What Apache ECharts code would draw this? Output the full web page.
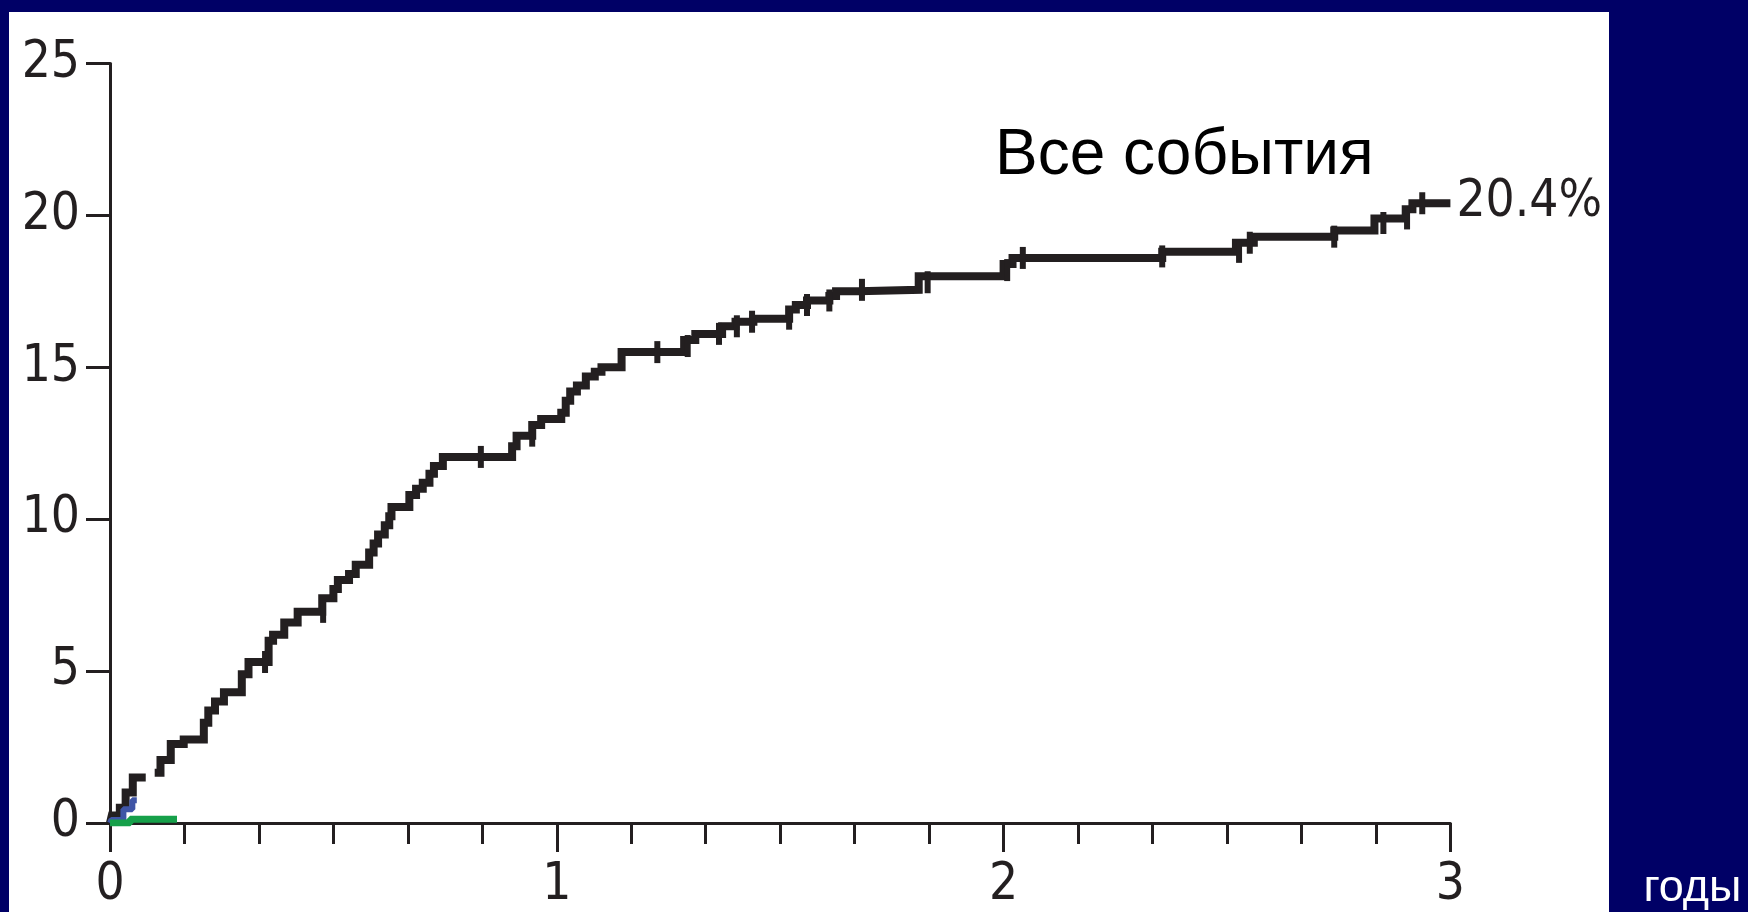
<!DOCTYPE html>
<html>
<head>
<meta charset="utf-8">
<script src="https://cdn.jsdelivr.net/npm/echarts@6/dist/echarts.min.js"></script>
<style>
  html, body { margin: 0; padding: 0; background: #000066; }
  #panel { position: absolute; left: 9px; top: 12px; width: 1600px; height: 900px; background: #ffffff; }
  #chart { position: absolute; left: 0; top: 0; width: 1748px; height: 912px; }
</style>
</head>
<body>
<div id="panel"></div>
<div id="chart"></div>
<script>
// ---- Data (years, cumulative % of events) ----
const allTime = [0, 0.004, 0.022, 0.035, 0.051, 0.068, 0.08, 0.10, 0.113, 0.136, 0.165, 0.21, 0.22, 0.235, 0.255, 0.295, 0.31, 0.355, 0.365, 0.39, 0.42, 0.475, 0.5, 0.51, 0.535, 0.55, 0.58, 0.59, 0.60, 0.615, 0.625, 0.63, 0.67, 0.685, 0.70, 0.715, 0.725, 0.745, 0.90, 0.91, 0.945, 0.965, 1.01, 1.02, 1.03, 1.045, 1.065, 1.085, 1.10, 1.145, 1.285, 1.31, 1.37, 1.40, 1.44, 1.52, 1.535, 1.56, 1.61, 1.625, 1.675, 1.81, 2.0, 2.02, 2.355, 2.52, 2.56, 2.74, 2.83, 2.90, 2.915, 3.0];
const allPct = [0, 0.25, 0.5, 1.0, 1.5, 1.5, null, 1.65, 2.07, 2.6, 2.75, 3.3, 3.7, 4.0, 4.3, 4.9, 5.3, 6.0, 6.2, 6.6, 6.95, 7.4, 7.7, 8.0, 8.2, 8.5, 8.9, 9.2, 9.5, 9.8, 10.1, 10.4, 10.8, 11.0, 11.2, 11.5, 11.75, 12.05, 12.4, 12.75, 13.1, 13.3, 13.5, 13.9, 14.2, 14.4, 14.7, 14.85, 15.0, 15.5, 15.9, 16.1, 16.35, 16.5, 16.6, 16.9, 17.05, 17.2, 17.35, 17.5, 17.55, 18.0, 18.4, 18.6, 18.8, 19.1, 19.3, 19.5, 19.9, 20.2, 20.4, 20.4];

const censorTime = [0.347, 0.477, 0.83, 0.945, 1.225, 1.293, 1.363, 1.403, 1.437, 1.52, 1.56, 1.61, 1.683, 1.83, 2.008, 2.043, 2.355, 2.527, 2.551, 2.74, 2.85, 2.903, 2.937];
const censorPct  = [5.3, 6.95, 12.05, 12.75, 15.5, 15.7, 16.1, 16.35, 16.5, 16.6, 17.05, 17.2, 17.55, 17.8, 18.2, 18.6, 18.65, 18.8, 19.1, 19.3, 19.75, 19.9, 20.4];

const blueTime = [0, 0.003, 0.03, 0.05, 0.06];
const bluePct  = [0, 0.1, 0.45, 0.75, 0.75];

const greenTime = [0, 0.045, 0.15];
const greenPct  = [0, 0.12, 0.12];

const xMin = 0, xMax = 3, xStep = 1, xMinorSplit = 6;
const yMin = 0, yMax = 25, yStep = 5;

const titleText = 'Все события';
const xAxisName = 'годы';

const zip = (a, b) => a.map((v, i) => [v, b[i]]);

const ink = '#231F20';
const numFont = '"Liberation Sans Narrow", "DejaVu Sans Condensed", sans-serif';
const textFont = '"Liberation Sans", Arial, sans-serif';

const chart = echarts.init(document.getElementById('chart'), null, { renderer: 'canvas' });
chart.setOption({
  backgroundColor: 'transparent',
  animation: false,
  title: {
    text: titleText,
    left: 990, top: 119,
    textStyle: { fontFamily: textFont, fontSize: 64, fontWeight: 'normal', color: '#000000' }
  },
  grid: { left: 110, top: 63.5, right: 297.6, bottom: 89, containLabel: false, outerBoundsMode: 'none' },
  xAxis: {
    type: 'value', min: xMin, max: xMax, interval: xStep,
    name: xAxisName, nameLocation: 'end', nameGap: 193,
    nameTextStyle: { color: '#ffffff', fontSize: 45, fontFamily: textFont, verticalAlign: 'top', align: 'left', padding: [43, 0, 0, 0] },
    axisLine: { show: true, onZero: false, lineStyle: { color: ink, width: 3 } },
    axisTick: { show: true, length: 29, lineStyle: { color: ink, width: 3 } },
    minorTick: { show: true, splitNumber: xMinorSplit, length: 21, lineStyle: { color: ink, width: 3 } },
    splitLine: { show: false },
    minorSplitLine: { show: false },
    axisLabel: { margin: 37, fontFamily: numFont, fontSize: 51, color: ink, showMinLabel: true, showMaxLabel: true }
  },
  yAxis: {
    type: 'value', min: yMin, max: yMax, interval: yStep,
    axisLine: { show: true, onZero: false, lineStyle: { color: ink, width: 3 } },
    axisTick: { show: true, length: 24, lineStyle: { color: ink, width: 3 } },
    splitLine: { show: false },
    axisLabel: { margin: 30, fontFamily: numFont, fontSize: 51, color: ink, showMinLabel: true, showMaxLabel: true }
  },
  series: [
    {
      name: 'all', type: 'line', step: 'end', z: 3,
      data: zip(allTime, allPct), showSymbol: false, connectNulls: false,
      lineStyle: { color: ink, width: 8, cap: 'butt', join: 'miter' },
      endLabel: {
        show: true, distance: 6,
        formatter: p => p.value[1].toFixed(1) + '%',
        fontFamily: numFont, fontSize: 51, color: ink
      }
    },
    {
      name: 'censor', type: 'scatter', z: 4,
      data: zip(censorTime, censorPct),
      symbol: 'rect', symbolSize: [6, 22],
      itemStyle: { color: ink, opacity: 1 }
    },
    {
      name: 'blue', type: 'line', step: 'end', z: 5,
      data: zip(blueTime, bluePct), showSymbol: false,
      lineStyle: { color: '#3F55A6', width: 6 }
    },
    {
      name: 'green', type: 'line', step: 'end', z: 6,
      data: zip(greenTime, greenPct), showSymbol: false,
      lineStyle: { color: '#16A04A', width: 7 }
    }
  ]
});
</script>
</body>
</html>
